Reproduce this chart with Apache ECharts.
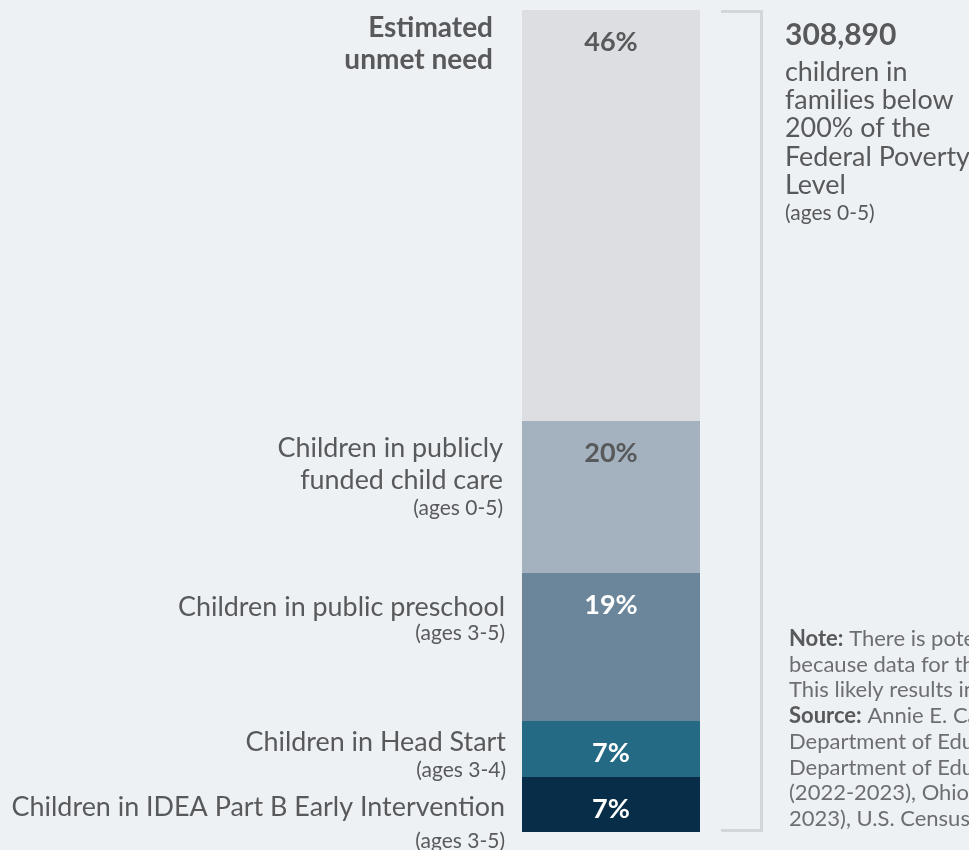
<!DOCTYPE html>
<html>
<head>
<meta charset="utf-8">
<script src="https://cdn.jsdelivr.net/npm/echarts@6/dist/echarts.min.js"></script>
<style>
html,body{margin:0;padding:0;background:#edf1f4;}
#chart{width:969px;height:850px;}
</style>
</head>
<body>
<div id="chart"></div>
<script>
// Segments, bottom to top
const segmentNames = ['IDEA Part B', 'Head Start', 'Public preschool', 'Publicly funded child care', 'Estimated unmet need'];
const barShare = [6.7, 6.8, 18.0, 18.5, 50.0];       // share of bar height
const shareLabels = ['7%', '7%', '19%', '20%', '46%']; // printed percentages
const segmentColors = ['#082d48', '#256a84', '#6b869b', '#a4b1be', '#dcdee1'];
const labelColors = ['#ffffff', '#ffffff', '#ffffff', '#58595b', '#58595b'];

const totalChildren = '308,890';
const rightLines = ['children in', 'families below', '200% of the', 'Federal Poverty', 'Level'];
const rightAges = '(ages 0-5)';

const noteLines = [
  ['Note:', ' There is potential for duplication in these counts'],
  ['', 'because data for these programs may overlap.'],
  ['', 'This likely results in an overestimate of children served.'],
  ['Source:', ' Annie E. Casey Foundation KIDS COUNT Data Center,'],
  ['', 'Department of Education and Workforce (2022-2023),'],
  ['', 'Department of Education and Workforce, Head Start'],
  ['', '(2022-2023), Ohio Department of Children and Youth (2022-'],
  ['', '2023), U.S. Census Bureau American Community Survey']
];

const TXT = '#58595b';
const FONT = 'Lato, "Noto Sans", sans-serif';
const MAIN = 26.9, SMALL = 21;

const chart = echarts.init(document.getElementById('chart'));

const series = segmentNames.map((name, i) => ({
  name: name,
  type: 'bar',
  stack: 'total',
  barWidth: '100%',
  data: [barShare[i]],
  itemStyle: { color: segmentColors[i] },
  label: {
    show: true,
    position: 'insideTop',
    distance: 19,
    formatter: () => shareLabels[i],
    color: labelColors[i],
    fontSize: 27,
    fontWeight: 'bold',
    fontFamily: FONT
  },
  emphasis: { disabled: true }
}));

function txt(x, y, text, size, weight, align) {
  return {
    type: 'text', x: x, y: y,
    style: {
      text: text, fill: TXT, fontSize: size, fontWeight: weight || 'normal',
      fontFamily: FONT, align: align || 'right', verticalAlign: 'middle'
    }
  };
}

const graphics = [
  // left labels
  txt(493, 28, 'Estimated', 28, 'bold'),
  txt(493, 60, 'unmet need', 28, 'bold'),
  txt(503, 448, 'Children in publicly', MAIN),
  txt(503, 480, 'funded child care', MAIN),
  txt(503, 508, '(ages 0-5)', SMALL),
  txt(505, 607, 'Children in public preschool', MAIN),
  txt(505, 633, '(ages 3-5)', SMALL),
  txt(506, 742, 'Children in Head Start', MAIN),
  txt(506, 770, '(ages 3-4)', SMALL),
  txt(505, 807, 'Children in IDEA Part B Early Intervention', MAIN),
  txt(505, 841, '(ages 3-5)', SMALL),
  // right block
  txt(785, 35, totalChildren, 30, 'bold', 'left'),
  ...rightLines.map((l, i) => txt(785, 72 + i * 28.3, l, MAIN, 'normal', 'left')),
  txt(785, 213, rightAges, SMALL, 'normal', 'left'),
  // bracket
  {
    type: 'polyline',
    shape: { points: [[721, 11.5], [761.5, 11.5], [761.5, 830.5], [721, 830.5]] },
    style: { stroke: '#d3d6da', lineWidth: 3, fill: null }
  },
  // note
  ...noteLines.map((l, i) => ({
    type: 'text', x: 789, y: 639 + i * 25.7,
    style: {
      text: (l[0] ? '{b|' + l[0] + '}' : '') + '{n|' + l[1] + '}',
      verticalAlign: 'middle', align: 'left',
      rich: {
        b: { fontSize: 22, fontWeight: 'bold', fill: '#58595b', fontFamily: FONT },
        n: { fontSize: 22, fill: '#6d6e71', fontFamily: FONT }
      }
    }
  }))
];

chart.setOption({
  backgroundColor: '#edf1f4',
  animation: false,
  grid: { left: 522, width: 178, top: 10, height: 822 },
  xAxis: { type: 'category', data: ['Ohio'], show: false },
  yAxis: { type: 'value', min: 0, max: 100, show: false },
  series: series,
  graphic: graphics
});
</script>
</body>
</html>
